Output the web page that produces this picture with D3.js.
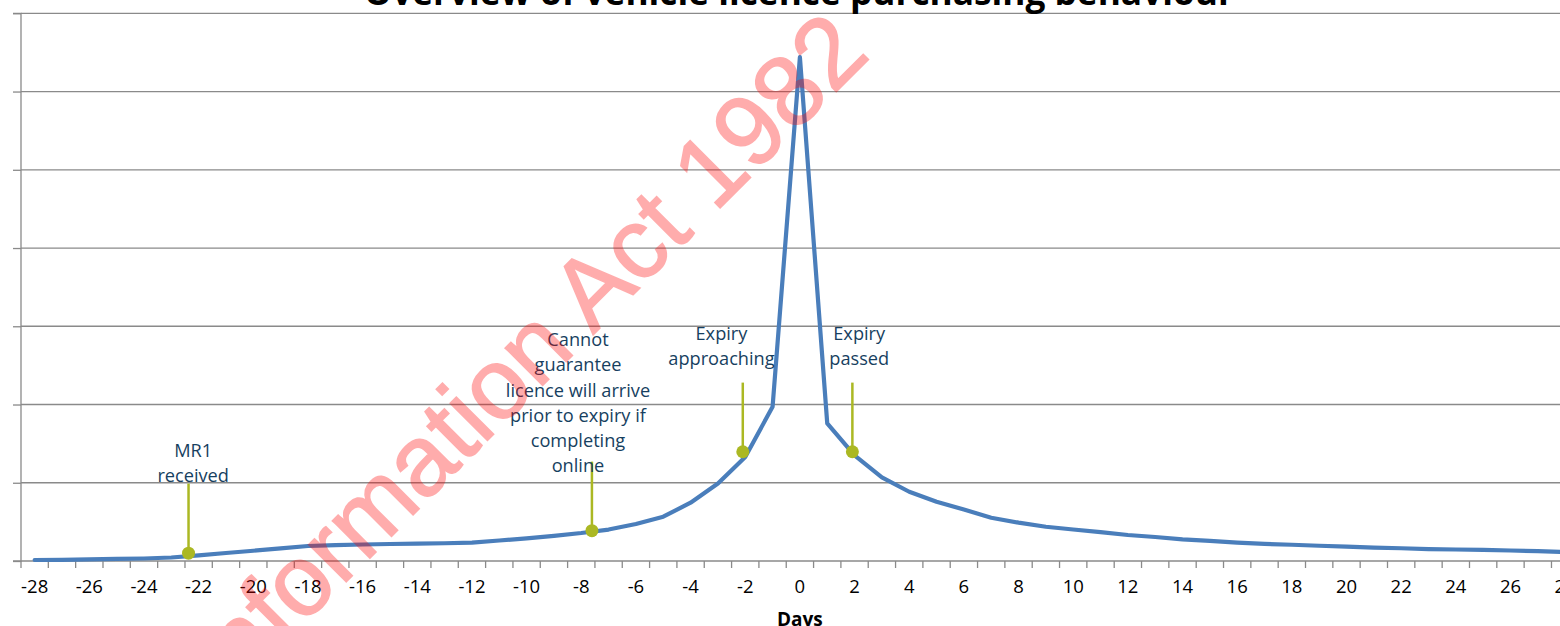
<!DOCTYPE html>
<html>
<head>
<meta charset="utf-8">
<script src="https://cdn.jsdelivr.net/npm/d3@7"></script>
<style>
  html, body { margin: 0; padding: 0; background: #fff; }
  svg { display: block; }
</style>
</head>
<body>
<svg id="chart" width="1560" height="626"></svg>
<script>
// ---------- DATA ----------
const days = [-28,-27,-26,-25,-24,-23,-22,-21,-20,-19,-18,-17,-16,-15,-14,-13,-12,-11,-10,-9,-8,-7,-6,-5,-4,-3,-2,-1,0,1,2,3,4,5,6,7,8,9,10,11,12,13,14,15,16,17,18,19,20,21,22,23,24,25,26,27,28];
const purchases = [0.013,0.015,0.02,0.026,0.032,0.045,0.072,0.102,0.131,0.162,0.192,0.202,0.211,0.217,0.222,0.227,0.236,0.262,0.29,0.322,0.358,0.402,0.473,0.566,0.745,0.99,1.33,1.97,6.44,1.76,1.35,1.07,0.885,0.757,0.658,0.553,0.49,0.438,0.403,0.37,0.332,0.307,0.277,0.256,0.234,0.218,0.208,0.195,0.183,0.172,0.163,0.153,0.147,0.141,0.134,0.125,0.115];
const tickLabelDays = [-28,-26,-24,-22,-20,-18,-16,-14,-12,-10,-8,-6,-4,-2,0,2,4,6,8,10,12,14,16,18,20,22,24,26,28];
const gridValues = [1,2,3,4,5,6,7];
const annotationLines = [
  ["MR1","received"],
  ["Cannot","guarantee","licence will arrive","prior to expiry if","completing","online"],
  ["Expiry","approaching"],
  ["Expiry","passed"]
];
const annotationDay = [-22.37, -7.61, -2.09, 1.92];
const annotationValue = [0.1, 0.387, 1.396, 1.396];
const annotationStemTop = [0.99, 1.27, 2.28, 2.28];
const annotationLabelDay = [-22.2, -8.12, -2.87, 2.17];
const annotationLabelValue = [1.409, 2.823, 2.90, 2.90];
const titleText = "Overview of vehicle licence purchasing behaviour";
const xTitle = "Days";
const watermarkText = "Information Act 1982";

// ---------- LAYOUT ----------
const svg = d3.select("#chart");
const plotLeft = 21, catW = 27.33;
const x = d3.scaleBand().domain(days).range([plotLeft, plotLeft + days.length * catW]).padding(0);
const bw = x.bandwidth();
const xc = d => x(d) + bw / 2;
// continuous version for fractional-day annotations
const xf = d3.scaleLinear().domain([days[0], days[days.length - 1]]).range([xc(days[0]), xc(days[days.length - 1])]);
const y = d3.scaleLinear().domain([0, 7]).range([561, 13.3]);

const gridColor = "#8a8a8a";
const font = "'Open Sans', 'Noto Sans', sans-serif";

// Gridlines
svg.append("g").selectAll("line").data(gridValues).join("line")
  .attr("x1", plotLeft).attr("x2", 1560)
  .attr("y1", d => y(d)).attr("y2", d => y(d))
  .attr("stroke", gridColor).attr("stroke-width", 1.3);

// Y axis (no labels)
const yAxis = svg.append("g").attr("transform", `translate(${plotLeft},0)`)
  .call(d3.axisLeft(y).tickValues([0].concat(gridValues)).tickSize(8).tickFormat(""));
yAxis.selectAll("path,line").attr("stroke", gridColor).attr("stroke-width", 1.3);
yAxis.select(".domain").attr("d", `M-8,${y(7)}H0V${y(0)}H-8`);

// X axis line
svg.append("line").attr("x1", plotLeft).attr("x2", 1560)
  .attr("y1", y(0)).attr("y2", y(0)).attr("stroke", gridColor).attr("stroke-width", 1.3);
// Tick marks at category boundaries
const boundaries = days.map(d => x(d)).concat([x(days[days.length - 1]) + bw]);
svg.append("g").selectAll("line").data(boundaries).join("line")
  .attr("x1", d => d).attr("x2", d => d)
  .attr("y1", y(0)).attr("y2", y(0) + 7)
  .attr("stroke", gridColor).attr("stroke-width", 1.3);
// Tick labels
svg.append("g").selectAll("text").data(tickLabelDays).join("text")
  .attr("x", d => xc(d)).attr("y", 593)
  .attr("text-anchor", "middle")
  .attr("font-family", font).attr("font-size", 18.5).attr("fill", "#000")
  .text(d => d);
// Axis title
svg.append("text").attr("x", xc(0)).attr("y", 626)
  .attr("text-anchor", "middle").attr("font-family", font)
  .attr("font-weight", "bold").attr("font-size", 19).text(xTitle);

// Title
const title = svg.append("text").attr("x", 799).attr("y", 5)
  .attr("text-anchor", "middle").attr("font-family", font)
  .attr("font-weight", "bold").attr("font-size", 28).text(titleText);
const tw = title.node().getComputedTextLength();
title.attr("font-size", 28 * 870 / tw);

// Main line
const series = days.map((d, i) => ({ day: d, v: purchases[i] }));
svg.append("path").datum(series)
  .attr("fill", "none").attr("stroke", "#4a7ebb").attr("stroke-width", 4.2)
  .attr("stroke-linejoin", "round").attr("stroke-linecap", "round")
  .attr("d", d3.line().x(d => xc(d.day)).y(d => y(d.v)));

// Annotations
const green = "#abb823";
const ann = annotationLines.map((lines, i) => ({
  lines, day: annotationDay[i], v: annotationValue[i], top: annotationStemTop[i],
  ld: annotationLabelDay[i], lv: annotationLabelValue[i]
}));
const ag = svg.append("g");
ag.selectAll("line").data(ann).join("line")
  .attr("x1", d => xf(d.day)).attr("x2", d => xf(d.day))
  .attr("y1", d => y(d.top)).attr("y2", d => y(d.v))
  .attr("stroke", green).attr("stroke-width", 2.5);
ag.selectAll("circle").data(ann).join("circle")
  .attr("cx", d => xf(d.day)).attr("cy", d => y(d.v)).attr("r", 6.5)
  .attr("fill", green);
const lineH = 25.2;
ann.forEach(a => {
  const t = svg.append("text").attr("font-family", font).attr("font-size", 18.2)
    .attr("fill", "#173f5f").attr("text-anchor", "middle");
  a.lines.forEach((s, j) => {
    t.append("tspan").attr("x", xf(a.ld)).attr("y", y(a.lv) + j * lineH + 6).text(s);
  });
});

// Watermark
svg.append("g").attr("opacity", 0.32)
  .append("text")
  .attr("transform", "translate(872,56) rotate(-45)")
  .attr("text-anchor", "end")
  .attr("font-family", "'Liberation Sans', Arial, sans-serif")
  .attr("font-size", 100)
  .attr("fill", "#ff0000").attr("stroke", "#ff0000").attr("stroke-width", 1.5)
  .text(watermarkText);
</script>
</body>
</html>
